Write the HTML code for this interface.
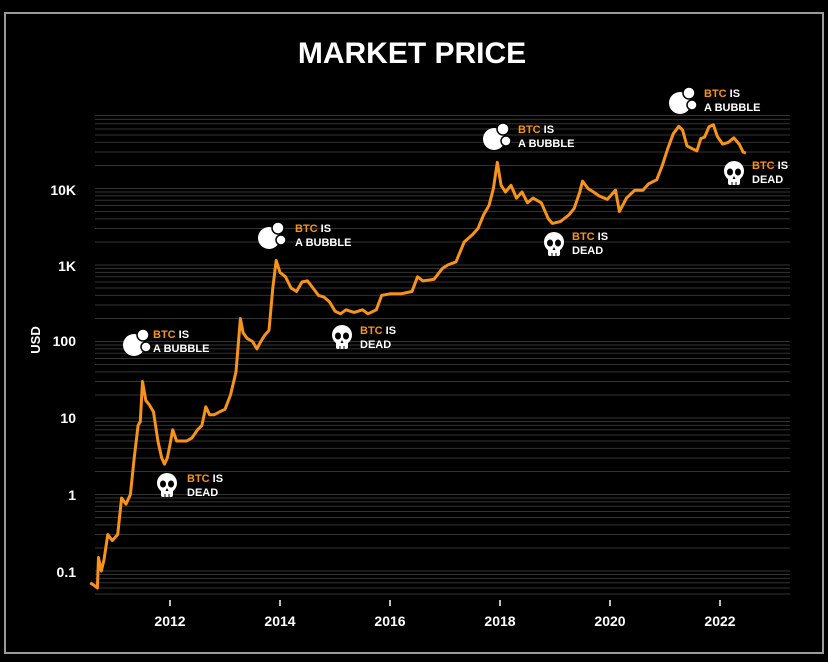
<!DOCTYPE html>
<html><head><meta charset="utf-8"><style>
html,body{margin:0;padding:0;background:#000;}
svg{display:block;font-family:"Liberation Sans",sans-serif;}
</style></head><body>
<svg id="s" width="828" height="662" viewBox="0 0 828 662" xmlns="http://www.w3.org/2000/svg">
<rect x="0" y="0" width="828" height="662" fill="#000"/>
<rect x="5" y="13" width="818" height="640" fill="none" stroke="#9a9a9a" stroke-width="2"/>
<text x="412" y="63" text-anchor="middle" fill="#fff" font-size="30" font-weight="bold">MARKET PRICE</text>
<g id="grid"></g>
<g fill="#fff" font-size="14" font-weight="bold" text-anchor="end">
<text x="76" y="195">10K</text>
<text x="76" y="271">1K</text>
<text x="76" y="346">100</text>
<text x="76" y="423">10</text>
<text x="76" y="500">1</text>
<text x="76" y="577">0.1</text>
</g>
<text transform="translate(40,340) rotate(-90)" text-anchor="middle" fill="#fff" font-size="13" font-weight="bold">USD</text>
<g id="xt" fill="#fff" font-size="14" font-weight="bold" text-anchor="middle"></g>
<path id="line" fill="none" stroke="#f7931a" stroke-width="3" stroke-linejoin="round"/>
<g id="ann" font-size="11" font-weight="bold"></g>
</svg>
<script>
var NS="http://www.w3.org/2000/svg";
function Y(p){return 571-76.5*Math.log10(p/0.1);}
function X(t){return 170+55*(t-2012);}
var g=document.getElementById('grid'),h='';
for(var d=-2;d<=4;d++){for(var m=1;m<=9;m++){var p=m*Math.pow(10,d);if(p<0.045||p>110000)continue;var y=Y(p);h+='<line x1="95" x2="790" y1="'+y.toFixed(1)+'" y2="'+y.toFixed(1)+'" stroke="#333" stroke-width="1"/>';}}
g.innerHTML=h;
var xt='';[2012,2014,2016,2018,2020,2022].forEach(function(t){var x=X(t);xt+='<line x1="'+x+'" x2="'+x+'" y1="600" y2="606" stroke="#fff" stroke-width="1.5"/><text x="'+x+'" y="626">'+t+'</text>';});
document.getElementById('xt').innerHTML=xt;
var D=[[2010.55,0.07],[2010.62,0.065],[2010.68,0.06],[2010.7,0.15],[2010.75,0.1],[2010.8,0.14],[2010.87,0.3],[2010.95,0.25],[2011.05,0.3],[2011.12,0.9],[2011.2,0.75],[2011.28,1.0],[2011.35,3],[2011.42,8],[2011.46,9],[2011.5,30],[2011.56,17],[2011.62,15],[2011.7,12],[2011.78,5],[2011.85,3],[2011.9,2.5],[2011.95,3],[2012.0,4.5],[2012.05,7],[2012.12,5],[2012.2,5],[2012.3,5],[2012.4,5.5],[2012.5,7],[2012.58,8],[2012.65,14],[2012.72,11],[2012.8,11],[2012.9,12],[2013.0,13],[2013.1,20],[2013.2,40],[2013.28,200],[2013.33,130],[2013.4,110],[2013.5,100],[2013.58,80],[2013.65,100],[2013.72,120],[2013.8,140],[2013.87,500],[2013.93,1150],[2014.0,800],[2014.1,700],[2014.2,500],[2014.3,450],[2014.4,600],[2014.5,620],[2014.6,500],[2014.7,400],[2014.8,380],[2014.9,330],[2015.0,250],[2015.1,230],[2015.2,260],[2015.35,240],[2015.5,260],[2015.6,230],[2015.75,260],[2015.85,400],[2016.0,420],[2016.2,420],[2016.4,450],[2016.5,700],[2016.6,620],[2016.8,650],[2016.95,900],[2017.05,1000],[2017.2,1100],[2017.35,2000],[2017.5,2500],[2017.6,3000],[2017.7,4500],[2017.8,6000],[2017.88,10000],[2017.95,22000],[2018.02,11000],[2018.1,9000],[2018.2,11000],[2018.3,7500],[2018.4,9000],[2018.5,6500],[2018.6,7500],[2018.75,6500],[2018.88,4000],[2018.95,3500],[2019.1,3700],[2019.25,4500],[2019.35,5500],[2019.45,9000],[2019.5,12500],[2019.6,10000],[2019.7,9000],[2019.8,8000],[2019.95,7200],[2020.1,9500],[2020.17,5000],[2020.3,7500],[2020.45,9500],[2020.6,9500],[2020.7,11500],[2020.85,13000],[2020.95,20000],[2021.05,33000],[2021.15,52000],[2021.25,65000],[2021.32,58000],[2021.4,36000],[2021.5,33000],[2021.58,31000],[2021.65,45000],[2021.72,47000],[2021.8,64000],[2021.88,68000],[2021.95,48000],[2022.05,38000],[2022.15,40000],[2022.25,46000],[2022.35,38000],[2022.42,30000],[2022.47,29000]];
var s='';D.forEach(function(d,i){s+=(i?'L':'M')+X(d[0]).toFixed(1)+' '+Y(d[1]).toFixed(1);});
document.getElementById('line').setAttribute('d',s);
function bubble(x,y,tx,ty){return '<circle cx="'+x+'" cy="'+y+'" r="11" fill="#fff"/><circle cx="'+(x+9)+'" cy="'+(y-10)+'" r="6" fill="#fff" stroke="#000" stroke-width="1.5"/><circle cx="'+(x+12)+'" cy="'+(y+2)+'" r="5" fill="#fff" stroke="#000" stroke-width="1.5"/>'+lab(tx,ty,'A BUBBLE');}
function skull(x,y,tx,ty){return '<circle cx="'+x+'" cy="'+(y-3)+'" r="10" fill="#fff"/><rect x="'+(x-6)+'" y="'+(y+2)+'" width="12" height="9" rx="2" fill="#fff"/><ellipse cx="'+(x-4)+'" cy="'+(y-2)+'" rx="3" ry="3.5" fill="#000"/><ellipse cx="'+(x+4)+'" cy="'+(y-2)+'" rx="3" ry="3.5" fill="#000"/><path d="M'+(x-1.5)+' '+(y+5)+'l1.5 -3 1.5 3z" fill="#000"/><line x1="'+(x-2)+'" x2="'+(x-2)+'" y1="'+(y+8)+'" y2="'+(y+11)+'" stroke="#000"/><line x1="'+(x+2)+'" x2="'+(x+2)+'" y1="'+(y+8)+'" y2="'+(y+11)+'" stroke="#000"/>'+lab(tx,ty,'DEAD');}
function lab(x,y,t2){return '<text x="'+x+'" y="'+y+'"><tspan fill="#f7931a">BTC</tspan><tspan fill="#fff"> IS</tspan></text><text x="'+x+'" y="'+(y+14)+'" fill="#fff">'+t2+'</text>';}
document.getElementById('ann').innerHTML=
bubble(134,345,153,338)+skull(167,486,187,482)+
bubble(269,238,295,232)+skull(342,338,360,334)+
bubble(494,139,518,133)+skull(554,245,572,240)+
bubble(680,103,704,97)+skull(734,174,752,169);
</script>
</body></html>
